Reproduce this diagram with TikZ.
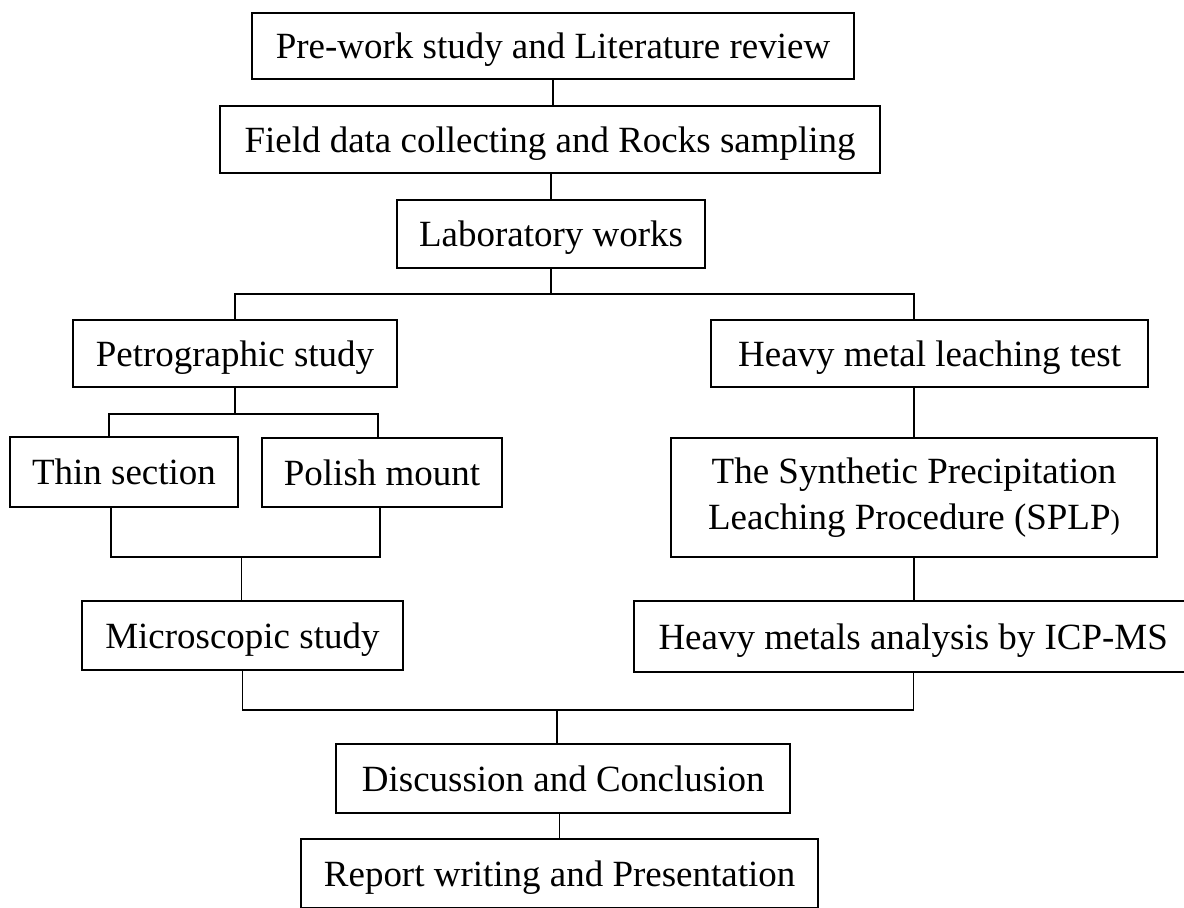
\documentclass[tikz,border=0pt]{standalone}
\usepackage{fontspec}
\setmainfont{Liberation Serif}
\usepackage{tikz}
\usetikzlibrary{positioning}

\begin{document}
\begin{tikzpicture}[scale=1,
    stage/.style={draw, line width=1.35pt, inner sep=0pt, align=center,
                  font=\fontsize{26.3}{32.6}\selectfont},
    oneline/.style={stage, text height=19.5pt, text depth=1.5pt},
    link/.style={line width=1pt}]
				% page 1184 x 908 px, 40 px = 1 cm
				\useasboundingbox (0,0) rectangle (29.6,-22.7);
				\clip (0,0) rectangle (29.6,-22.7);
				
				% Boxes
				\node[oneline, minimum width=15.05cm, minimum height=1.65cm] (pre) at (13.825,-1.15) {Pre-work study and Literature review};
				\node[oneline, minimum width=16.5cm, minimum height=1.68cm] (field) at (13.75,-3.49) {Field data collecting and Rocks sampling};
				\node[oneline, minimum width=7.7cm, minimum height=1.7cm] (lab) at (13.775,-5.85) {Laboratory works};
				\node[oneline, minimum width=8.1cm, minimum height=1.68cm] (petro) at (5.875,-8.84) {Petrographic study};
				\node[oneline, minimum width=10.93cm, minimum height=1.68cm] (heavy) at (23.24,-8.84) {Heavy metal leaching test};
				\node[oneline, minimum width=5.7cm, minimum height=1.75cm] (thin) at (3.1,-11.8) {Thin section};
				\node[oneline, minimum width=6.0cm, minimum height=1.73cm] (polish) at (9.55,-11.81) {Polish mount};
				\node[stage, minimum width=12.15cm, minimum height=2.98cm] (splp) at (22.85,-12.44) {The Synthetic Precipitation\\Leaching Procedure (SPLP{\fontsize{20}{24}\selectfont )}};
				\node[oneline, minimum width=8.03cm, minimum height=1.73cm] (micro) at (6.06,-15.89) {Microscopic study};
				\node[oneline, minimum width=13.95cm, minimum height=1.78cm] (icp) at (22.83,-15.91) {Heavy metals analysis by ICP-MS};
				\node[oneline, minimum width=11.35cm, minimum height=1.73cm] (disc) at (14.08,-19.46) {Discussion and Conclusion};
				\node[oneline, minimum width=12.93cm, minimum height=1.73cm] (report) at (13.99,-21.84) {Report writing and Presentation};
				
				% Forks and joins
				\coordinate (labfork) at (13.775,-7.35);
				\coordinate (petrofork) at (5.875,-10.35);
				\coordinate (sectjoin) at (6.03,-13.925);
				\coordinate (labjoin) at (13.925,-17.75);
				
				% Draw lines
				\draw[link] (pre.south) -- (pre.south |- field.north);
				\draw[link] (lab.north) -- (lab.north |- field.south);
				\draw[link] (lab.south) -- (labfork);
				\draw[link] (petro.north) |- (labfork) -| (splp.north |- heavy.north);
				\draw[link] (petro.south) -- (petrofork);
				\draw[link] ([xshift=-0.375cm]thin.north) |- (petrofork) -| ([xshift=-0.1cm]polish.north);
				\draw[link] ([xshift=-0.325cm]thin.south) |- (sectjoin) -| ([xshift=-0.05cm]polish.south);
				\draw[link] (sectjoin) -- (sectjoin |- micro.north);
				\draw[link] (splp.north |- heavy.south) -- (splp.north);
				\draw[link] (splp.south) -- (splp.south |- icp.north);
				\draw[link] (micro.south) |- (labjoin) -| (icp.south);
				\draw[link] (labjoin) -- (labjoin |- disc.north);
				\draw[link] (report.north) -- (report.north |- disc.south);
			\end{tikzpicture}
\end{document}
